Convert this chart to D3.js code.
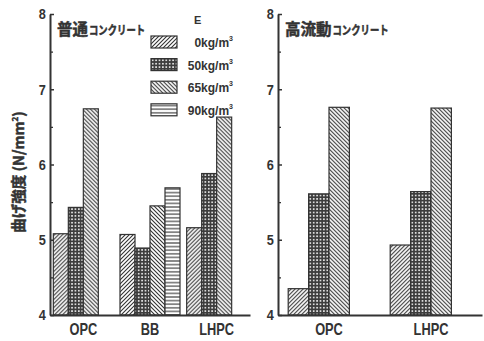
<!DOCTYPE html>
<html>
<head>
<meta charset="UTF-8">
<script src="https://d3js.org/d3.v7.min.js"></script>
<style>
  body { margin: 0; background: #fff; }
  svg { display: block; }
  .tick text, .lab { font-family: "Liberation Sans", Arial, sans-serif; font-weight: bold; fill: #333; }
  .jp { font-family: "Noto Sans CJK JP", sans-serif; font-weight: bold; fill: #333; stroke: #333; stroke-width: 0.5; }
</style>
</head>
<body>
<svg id="chart"></svg>
<script>
// series (cement content E)
var seriesKeys = ["0", "50", "65", "90"];
var seriesLabels = ["0kg/m", "50kg/m", "65kg/m", "90kg/m"];

// 普通コンクリート
var normalCats = ["OPC", "BB", "LHPC"];
var normal0  = [5.08, 5.07, 5.16];
var normal50 = [5.43, 4.89, 5.88];
var normal65 = [6.74, 5.45, 6.63];
var normal90 = [null, 5.69, null];

// 高流動コンクリート
var flowCats = ["OPC", "LHPC"];
var flow0  = [4.35, 4.93];
var flow50 = [5.61, 5.64];
var flow65 = [6.76, 6.75];

var yTicks = [4, 5, 6, 7, 8];
var yMinor = [4.5, 5.5, 6.5, 7.5];

var width = 484, height = 341;
var ink = "#333";

var svg = d3.select("#chart").attr("width", width).attr("height", height);

// patterns
var defs = svg.append("defs");
var p0 = defs.append("pattern").attr("id", "p0").attr("patternUnits", "userSpaceOnUse")
  .attr("width", 4).attr("height", 4);
p0.append("rect").attr("width", 4).attr("height", 4).attr("fill", "#fff");
p0.append("path").attr("d", "M-1,1 l2,-2 M0,4 l4,-4 M3,5 l2,-2").attr("stroke", ink).attr("stroke-width", 1.1);

var p65 = defs.append("pattern").attr("id", "p65").attr("patternUnits", "userSpaceOnUse")
  .attr("width", 4).attr("height", 4);
p65.append("rect").attr("width", 4).attr("height", 4).attr("fill", "#fff");
p65.append("path").attr("d", "M-1,3 l2,2 M0,0 l4,4 M3,-1 l2,2").attr("stroke", ink).attr("stroke-width", 1.1);

var p50 = defs.append("pattern").attr("id", "p50").attr("patternUnits", "userSpaceOnUse")
  .attr("width", 3.4).attr("height", 3.4);
p50.append("rect").attr("width", 3.4).attr("height", 3.4).attr("fill", "#3c3c3c");
p50.append("circle").attr("cx", 1.7).attr("cy", 1.7).attr("r", 0.95).attr("fill", "#fff");

var p90 = defs.append("pattern").attr("id", "p90").attr("patternUnits", "userSpaceOnUse")
  .attr("width", 4).attr("height", 3.6);
p90.append("rect").attr("width", 4).attr("height", 3.6).attr("fill", "#fff");
p90.append("line").attr("x1", 0).attr("x2", 4).attr("y1", 1.8).attr("y2", 1.8).attr("stroke", ink).attr("stroke-width", 1.1);

var fills = {"0": "url(#p0)", "50": "url(#p50)", "65": "url(#p65)", "90": "url(#p90)"};

var y = d3.scaleLinear().domain([4, 8]).range([315, 14]);

function panel(cats, cols, x0, x1, padIn, padOut, title1, title2, titleX) {
  var rows = cats.map(function (c, i) {
    var r = {cat: c};
    seriesKeys.forEach(function (k, j) { r[k] = cols[j] ? cols[j][i] : null; });
    return r;
  });
  var xb = d3.scaleBand().domain(cats).range([x0, x1]).paddingInner(padIn).paddingOuter(padOut);
  var xs = d3.scaleBand().domain(seriesKeys).range([0, xb.bandwidth()]);

  var g = svg.append("g");
  g.selectAll("g.grp").data(rows).enter().append("g")
    .attr("transform", function (d) { return "translate(" + xb(d.cat) + ",0)"; })
    .selectAll("rect")
    .data(function (d) { return seriesKeys.filter(function (k) { return d[k] != null; }).map(function (k) { return {key: k, value: d[k]}; }); })
    .enter().append("rect")
    .attr("x", function (d) { return xs(d.key); })
    .attr("y", function (d) { return y(d.value); })
    .attr("width", xs.bandwidth())
    .attr("height", function (d) { return y(4) - y(d.value); })
    .attr("fill", function (d) { return fills[d.key]; })
    .attr("stroke", ink).attr("stroke-width", 1.2);

  // y axis, ticks point inward
  var ya = g.append("g").attr("transform", "translate(" + x0 + ",0)")
    .call(d3.axisLeft(y).tickValues(yTicks).tickSize(-4).tickSizeOuter(0).tickPadding(5).tickFormat(d3.format("d")));
  ya.select(".domain").attr("stroke", ink).attr("stroke-width", 2);
  ya.selectAll(".tick line").attr("stroke", ink).attr("stroke-width", 1.5);
  ya.selectAll(".tick text").attr("font-size", 15).attr("fill", ink).attr("transform", "scale(0.85,1)");
  var ym = g.append("g").attr("transform", "translate(" + x0 + ",0)")
    .call(d3.axisLeft(y).tickValues(yMinor).tickSize(-3).tickSizeOuter(0).tickFormat(""));
  ym.select(".domain").remove();
  ym.selectAll(".tick line").attr("stroke", ink).attr("stroke-width", 1.3);

  // x axis
  var xa = g.append("g").attr("transform", "translate(0," + y(4) + ")")
    .call(d3.axisBottom(xb).tickSize(0).tickPadding(9));
  xa.select(".domain").attr("stroke", ink).attr("stroke-width", 2);
  xa.selectAll(".tick text").attr("font-size", 16).attr("fill", ink).attr("transform", "scale(0.8,1)");

  // title: big kanji + condensed katakana
  var t1 = g.append("text").attr("class", "jp").attr("x", titleX).attr("y", 35)
    .attr("font-size", 15.5).text(title1);
  var w = t1.node().getComputedTextLength();
  g.append("text").attr("class", "jp")
    .attr("transform", "translate(" + (titleX + w + 1) + ",35) scale(0.78,1)")
    .attr("font-size", 12).text(title2);
}

panel(normalCats, [normal0, normal50, normal65, normal90], 50, 250, 0.1, 0.05, "普通", "コンクリート", 57);
panel(flowCats, [flow0, flow50, flow65], 278, 482, 0.2, 0.1, "高流動", "コンクリート", 285);

// y label
var yl = svg.append("text").attr("class", "jp")
  .attr("transform", "translate(24,172) rotate(-90)")
  .attr("text-anchor", "middle").attr("font-size", 14.5);
yl.append("tspan").text("曲げ強度 (N/mm");
yl.append("tspan").attr("font-size", 8).attr("dy", -6).text("2");
yl.append("tspan").attr("dy", 6).text(")");

// legend
svg.append("text").attr("class", "lab").attr("x", 194).attr("y", 24)
  .attr("font-size", 11).attr("font-weight", "normal").text("E");
var leg = svg.append("g").selectAll("g").data(seriesKeys).enter().append("g")
  .attr("transform", function (d, i) { return "translate(151," + (36 + i * 22.6) + ")"; });
leg.append("rect").attr("width", 26).attr("height", 12)
  .attr("fill", function (d) { return fills[d]; }).attr("stroke", ink).attr("stroke-width", 1.2);
var lt = leg.append("text").attr("class", "lab").attr("x", 82).attr("y", 11)
  .attr("text-anchor", "end").attr("font-size", 12);
lt.append("tspan").text(function (d, i) { return seriesLabels[i]; });
lt.append("tspan").attr("font-size", 7).attr("dy", -6).text("3");
</script>
</body>
</html>
